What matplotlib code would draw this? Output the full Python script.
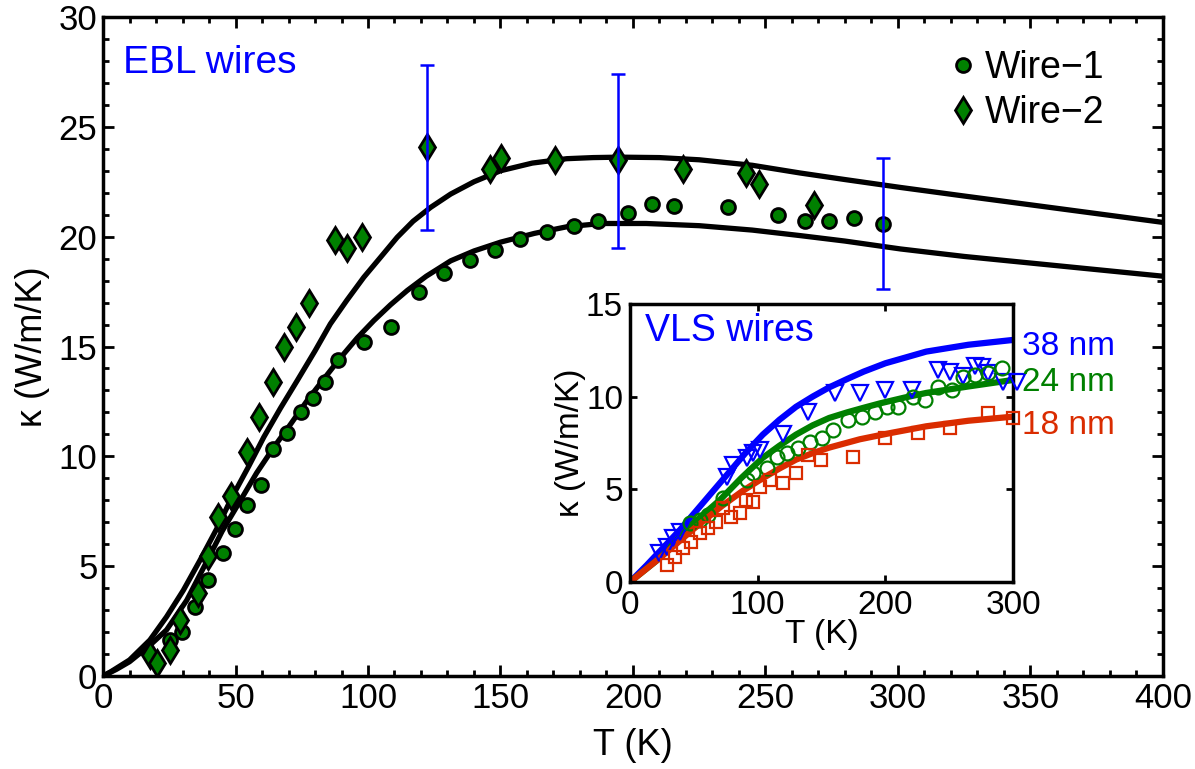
import matplotlib
matplotlib.use("Agg")
import matplotlib.pyplot as plt
from matplotlib.ticker import MultipleLocator

plt.rcParams['font.family'] = ['Liberation Sans', 'DejaVu Sans']

# main plot: EBL wires
w1_T = [25.3, 29.7, 34.7, 39.8, 45.4, 49.8, 54.3, 59.5, 64, 69.4, 74.7, 79.1, 83.8, 88.8,
        98.4, 108.7, 119.4, 128.8, 138.6, 147.9, 157.4, 167.5, 177.6, 186.7, 198, 207,
        215.6, 235.7, 254.9, 264.9, 274.1, 283.3, 294.5]
w1_k = [1.64, 2.0, 3.15, 4.36, 5.58, 6.71, 7.8, 8.7, 10.35, 11.08, 12.0, 12.65, 13.4, 14.4,
        15.2, 15.9, 17.47, 18.33, 18.94, 19.4, 19.9, 20.2, 20.5, 20.7, 21.08, 21.5,
        21.4, 21.33, 21.0, 20.7, 20.7, 20.85, 20.58]

w2_T = [17.7, 20.3, 25.3, 29, 35.7, 39.6, 43.5, 48.4, 54.2, 59, 64, 68.4, 72.8, 77.9,
        87.7, 92, 97.7, 122.3, 146.2, 150.2, 170.6, 194.5, 218.7, 242.6, 247.7, 268.2]
w2_k = [0.95, 0.58, 1.18, 2.55, 3.76, 5.45, 7.24, 8.2, 10.2, 11.8, 13.38, 14.97, 15.9, 17.0,
        19.85, 19.5, 20.0, 24.06, 23.08, 23.6, 23.5, 23.5, 23.1, 22.9, 22.4, 21.45]

fit2_T = [0, 3, 10, 17.7, 24, 30.3, 36.6, 42.9, 48.5, 55, 60.7, 67, 73.3, 80, 85.8, 92,
          98.4, 105, 111, 117, 123.6, 131.2, 140, 150, 162, 175, 185, 195, 210, 225, 245,
          263, 280, 301, 325, 350, 375, 400]
fit2_k = [0, 0.2, 0.73, 1.64, 2.7, 3.9, 5.27, 6.7, 8.1, 9.55, 10.88, 12.2, 13.45, 14.8,
          16.03, 17.1, 18.15, 19.1, 19.97, 20.7, 21.33, 21.94, 22.5, 23.0, 23.35, 23.55,
          23.6, 23.62, 23.6, 23.5, 23.25, 22.9, 22.6, 22.24, 21.85, 21.45, 21.05, 20.65]

fit1_T = [0, 5, 10, 17.7, 24, 31.6, 39.1, 45, 51.9, 58, 64.5, 71, 77.1, 83.5, 89.7, 96,
          102.2, 108.5, 114.8, 122, 131.2, 140, 150, 162.8, 175, 188, 205, 225, 245, 263,
          280, 301, 325, 350, 375, 400]
fit1_k = [0, 0.3, 0.65, 1.4, 2.1, 3.45, 5.2, 6.6, 8.0, 9.25, 10.42, 11.5, 12.55, 13.55,
          14.5, 15.4, 16.18, 16.9, 17.55, 18.2, 18.9, 19.35, 19.75, 20.15, 20.45, 20.6,
          20.6, 20.5, 20.3, 20.05, 19.8, 19.44, 19.1, 18.8, 18.5, 18.2]

err_T = [122.3, 194.5, 294.5]
err_k = [24.05, 23.45, 20.6]
err_size = [3.75, 3.95, 3.0]

# inset: VLS wires
v38_T = [23, 28.6, 34, 39.2, 75.7, 80.9, 91.4, 96.6, 101.8, 120, 139.6, 160.6, 180.1, 199.7,
         220.6, 241.4, 250.6, 261, 270.1, 275.4, 280.6, 292.3, 302.8]
v38_k = [1.55, 1.91, 2.36, 2.72, 5.68, 6.3, 6.7, 6.94, 7.12, 8.0, 9.19, 10.18, 10.22, 10.36,
         10.36, 11.44, 11.35, 11.1, 11.66, 11.62, 11.26, 10.81, 10.81]

v24_T = [47, 54.8, 61.4, 73.1, 91.4, 96.6, 107, 114.8, 122.6, 131.8, 141, 150.1, 159.2, 171,
         181.4, 191.9, 201, 210.1, 221.9, 231, 241.4, 251.9, 261, 270.1, 280.6, 291]
v24_k = [3.17, 3.35, 3.6, 4.52, 5.5, 5.86, 6.13, 6.76, 6.94, 7.21, 7.57, 7.75, 8.2, 8.74,
         8.92, 9.19, 9.45, 9.45, 10.0, 9.8, 10.54, 10.36, 11.08, 11.17, 11.26, 11.53]

v18_T = [28.6, 35.1, 41.6, 48.1, 54.6, 61.1, 67.7, 72.9, 79.4, 85.9, 91.1, 96.3, 101.5, 109.4,
         119.8, 130.3, 139.4, 149.9, 175, 199.8, 225.9, 250.6, 280.7, 299.7]
v18_k = [0.92, 1.37, 1.82, 2.18, 2.63, 2.9, 3.26, 3.98, 3.53, 3.71, 4.43, 4.34, 5.14, 5.5,
         5.33, 5.86, 6.85, 6.58, 6.76, 7.75, 8.02, 8.29, 9.1, 8.83]

f38_T = [0, 13, 26, 39, 52, 65, 78, 91, 104, 117, 130, 143, 156, 170, 183, 200, 232, 265, 300]
f38_k = [0, 0.9, 1.85, 2.8, 3.85, 4.9, 5.95, 7.0, 7.95, 8.75, 9.45, 10.0, 10.5, 10.95,
         11.35, 11.8, 12.43, 12.8, 13.06]
f24_T = [0, 23.5, 49.6, 70.5, 87, 104, 117, 130, 143, 156, 170, 183, 196, 215, 232, 265, 300]
f24_k = [0, 1.3, 3.17, 4.43, 5.6, 6.7, 7.35, 7.95, 8.45, 8.85, 9.15, 9.4, 9.64, 9.95, 10.2,
         10.55, 10.9]
f18_T = [0, 23.5, 49.6, 72, 88, 104, 117, 130, 143, 156, 180, 205, 232, 265, 300]
f18_k = [0, 1.3, 2.85, 4.1, 4.9, 5.6, 6.12, 6.6, 6.95, 7.25, 7.7, 8.05, 8.4, 8.7, 8.92]

green = '#008000'
blue = '#0000FF'
red = '#DA2C00'

fig = plt.figure(figsize=(11.95, 7.69), dpi=100)
ax = fig.add_axes([0.0862, 0.1209, 0.887, 0.857])

ax.plot(fit2_T, fit2_k, color='black', lw=3.8, zorder=2)
ax.plot(fit1_T, fit1_k, color='black', lw=3.8, zorder=2)
ax.plot(w1_T, w1_k, 'o', color=green, mec='black', mew=2, ms=10, label='Wire\u22121', zorder=3)
ax.plot(w2_T, w2_k, 'd', color=green, mec='black', mew=2, ms=13, label='Wire\u22122', zorder=3)
ax.errorbar(err_T, err_k, yerr=err_size, fmt='none', ecolor=blue, elinewidth=1.8,
            capsize=5, capthick=1.8, zorder=4)

ax.set_xlim(0, 400)
ax.set_ylim(0, 30)
ax.xaxis.set_major_locator(MultipleLocator(50))
ax.xaxis.set_minor_locator(MultipleLocator(10))
ax.yaxis.set_major_locator(MultipleLocator(5))
ax.yaxis.set_minor_locator(MultipleLocator(1))
ax.tick_params(which='both', direction='in', top=True, right=True, width=2, labelsize=25, pad=4)
ax.tick_params(which='major', length=8)
ax.tick_params(which='minor', length=4)
for s in ax.spines.values():
    s.set_linewidth(2.5)
ax.set_xlabel('T (K)', fontsize=26, labelpad=10)
ax.set_ylabel('\u03ba (W/m/K)', fontsize=26, labelpad=6)
ax.text(7.5, 27.9, 'EBL wires', color=blue, fontsize=28, ha='left', va='center')
ax.legend(loc='upper left', bbox_to_anchor=(0.797, 0.95), frameon=False, fontsize=27,
          handletextpad=0.2, borderaxespad=0, borderpad=0, labelspacing=0.25,
          handlelength=0.8)

ins = fig.add_axes([0.5272, 0.2432, 0.3205, 0.3615])
ins.plot(f38_T, f38_k, color=blue, lw=4.5, zorder=2)
ins.plot(f24_T, f24_k, color=green, lw=4.5, zorder=2)
ins.plot(f18_T, f18_k, color=red, lw=4.5, zorder=2)
ins.plot(v38_T, v38_k, 'v', mfc='none', mec=blue, mew=1.6, ms=11, clip_on=False, zorder=3)
ins.plot(v24_T, v24_k, 'o', mfc='none', mec=green, mew=1.6, ms=10, clip_on=False, zorder=3)
ins.plot(v18_T, v18_k, 's', mfc='none', mec=red, mew=1.6, ms=9, clip_on=False, zorder=3)
ins.set_xlim(0, 300)
ins.set_ylim(0, 15)
ins.xaxis.set_major_locator(MultipleLocator(100))
ins.yaxis.set_major_locator(MultipleLocator(5))
ins.tick_params(direction='in', top=True, right=True, width=2, length=5, labelsize=24)
ins.tick_params(axis='x', pad=6)
ins.tick_params(axis='y', pad=5)
for s in ins.spines.values():
    s.set_linewidth(2.5)
ins.set_xlabel('T (K)', fontsize=24, labelpad=-2)
ins.set_ylabel('\u03ba (W/m/K)', fontsize=24, labelpad=0)
ins.text(11.7, 13.55, 'VLS wires', color=blue, fontsize=27, ha='left', va='center')
ins.text(307, 12.68, '38 nm', color=blue, fontsize=24, ha='left', va='center', clip_on=False)
ins.text(307, 10.74, '24 nm', color=green, fontsize=24, ha='left', va='center', clip_on=False)
ins.text(307, 8.47, '18 nm', color=red, fontsize=24, ha='left', va='center', clip_on=False)

fig.savefig('out.png', dpi=100)
